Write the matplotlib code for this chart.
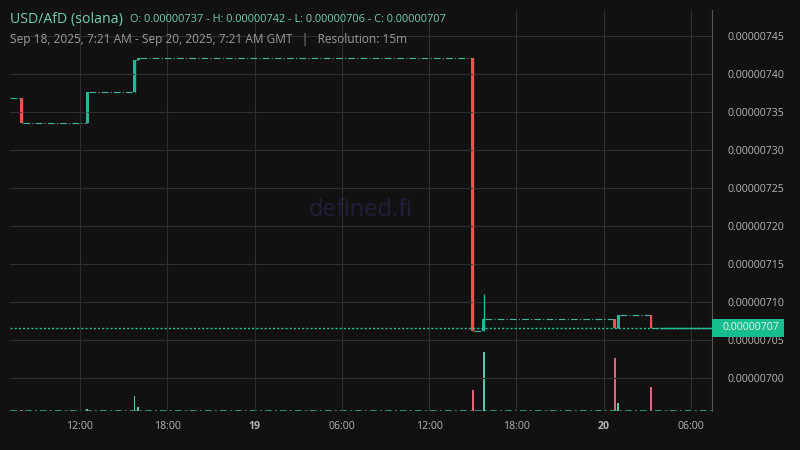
import matplotlib.pyplot as plt
from matplotlib.patches import Rectangle
import matplotlib.transforms as mtransforms

plt.rcParams['font.family'] = ['Open Sans', 'DejaVu Sans']

# hours since Sep 18, 2025 00:00 GMT (15m candles with trades)
times = [8.0, 12.5, 15.75, 16.0, 39.0, 39.75, 48.75, 49.0, 51.25]
opens = [7.368e-6, 7.335e-6, 7.376e-6, 7.418e-6, 7.421e-6, 7.062e-6, 7.078e-6, 7.066e-6, 7.083e-6]
highs = [7.368e-6, 7.376e-6, 7.418e-6, 7.421e-6, 7.421e-6, 7.110e-6, 7.078e-6, 7.083e-6, 7.083e-6]
lows = [7.335e-6, 7.335e-6, 7.376e-6, 7.418e-6, 7.062e-6, 7.062e-6, 7.066e-6, 7.066e-6, 7.066e-6]
closes = [7.335e-6, 7.376e-6, 7.418e-6, 7.421e-6, 7.062e-6, 7.078e-6, 7.066e-6, 7.083e-6, 7.066e-6]
volumes = [1, 2, 15, 4, 21, 59, 53, 8, 24]

last_price = 7.066e-6
x_start, x_end = 7.19, 55.44
xtick_pos = [12, 18, 24, 30, 36, 42, 48, 54]
xtick_labels = ["12:00", "18:00", "19", "06:00", "12:00", "18:00", "20", "06:00"]
ytick_vals = [7.00e-6, 7.05e-6, 7.10e-6, 7.15e-6, 7.20e-6, 7.25e-6, 7.30e-6, 7.35e-6, 7.40e-6, 7.45e-6]

bg = '#111111'
green = '#26b596'
red = '#ef5350'
grid_c = '#2e2e2e'
text_c = '#b4b4b4'

fig = plt.figure(figsize=(8, 4.5), dpi=100, facecolor=bg)
ax = fig.add_axes([10/800, 39/450, 702/800, 401/450])
ax.set_facecolor(bg)

# volume in the same area, own scale
axv = ax.twinx()
axv.set_ylim(0, max(volumes) * 401 / 59)
axv.axis('off')
ax.set_zorder(axv.get_zorder() + 1)
ax.patch.set_visible(False)
axv.patch.set_visible(True)
axv.patch.set_facecolor(bg)

for t, o, c, v in zip(times, opens, closes, volumes):
    axv.bar(t, v, width=0.13, color='#55c9ab' if c >= o else '#e8627a', linewidth=0)
axv.plot([x_start, x_end], [0.4, 0.4], color='#3aa88d', lw=1.2, ls=(0, (4, 2, 1, 2)))

# candles
for t, o, h, l, c in zip(times, opens, highs, lows, closes):
    col = green if c >= o else red
    ax.vlines(t, l, h, color=col, lw=1)
    ax.bar(t, abs(c - o) if abs(c - o) > 0 else 3e-11, bottom=min(o, c), width=0.2, color=col, linewidth=0)

# carry-forward steps between trades
dash = (0, (6, 2, 1, 2))
ax.hlines(opens[0], x_start, times[0] - 0.1, color=green, lw=0.8, linestyles=[dash])
for i in range(len(times) - 1):
    ax.hlines(closes[i], times[i] + 0.1, times[i + 1] - 0.1, color='#3fb7a0', lw=0.8, linestyles=[dash])
ax.hlines(closes[-1], times[-1] + 0.1, times[-1] + 0.6, color='#3fb7a0', lw=0.8, linestyles=[dash])
ax.hlines(closes[-1], times[-1] + 0.6, x_end, color='#2fb594', lw=1)

# last price line and label
ax.axhline(last_price, color='#1ec997', lw=1, ls=(0, (1.5, 1.5)))
trans = mtransforms.blended_transform_factory(ax.transAxes, ax.transData)
ax.add_patch(Rectangle((1.0, last_price - 1.25e-8), 72/702, 2.4e-8, transform=trans,
                       facecolor='#16bd8e', edgecolor='none', clip_on=False, zorder=5))
ax.text(1.0 + 11/702, last_price, f"{last_price:.8f}", transform=trans, ha='left', va='center',
        fontsize=7.6, color='#f0f0f0', zorder=6, clip_on=False)

ax.set_xlim(x_start, x_end)
ax.set_ylim(6.9566e-6, 7.484e-6)
axv.set_xlim(x_start, x_end)

ax.set_xticks(xtick_pos)
ax.set_xticklabels(xtick_labels)
for lbl in ax.get_xticklabels():
    if lbl.get_text() in ("19", "20"):
        lbl.set_fontweight('bold')
ax.set_yticks(ytick_vals)
ax.set_yticklabels([f"{v:.8f}" for v in ytick_vals])
ax.yaxis.tick_right()
ax.tick_params(axis='both', length=0, labelsize=7.6, colors=text_c)
ax.tick_params(axis='y', pad=11)
ax.tick_params(axis='x', pad=7)
ax.grid(True, color=grid_c, lw=0.8)
for s in ['top', 'left', 'bottom']:
    ax.spines[s].set_visible(False)
ax.spines['right'].set_color('#555555')

ax.text(0.5, 0.5, "defined.fi", transform=ax.transAxes, ha='center', va='center',
        fontsize=17, color='#1f1f3c', zorder=0)

fig.text(10/800, 1 - 19/450, "USD/AfD (solana)", fontsize=10.2, color='#6fd0b4', va='center')
fig.text(130/800, 1 - 19/450, "O: 0.00000737 - H: 0.00000742 - L: 0.00000706 - C: 0.00000707",
         fontsize=7.95, color='#6fd0b4', va='center')
fig.text(10/800, 1 - 40/450, "Sep 18, 2025, 7:21 AM - Sep 20, 2025, 7:21 AM GMT   |   Resolution: 15m",
         fontsize=8.6, color='#9a9a9a', va='center')

fig.savefig("out.png", dpi=100, facecolor=bg)
